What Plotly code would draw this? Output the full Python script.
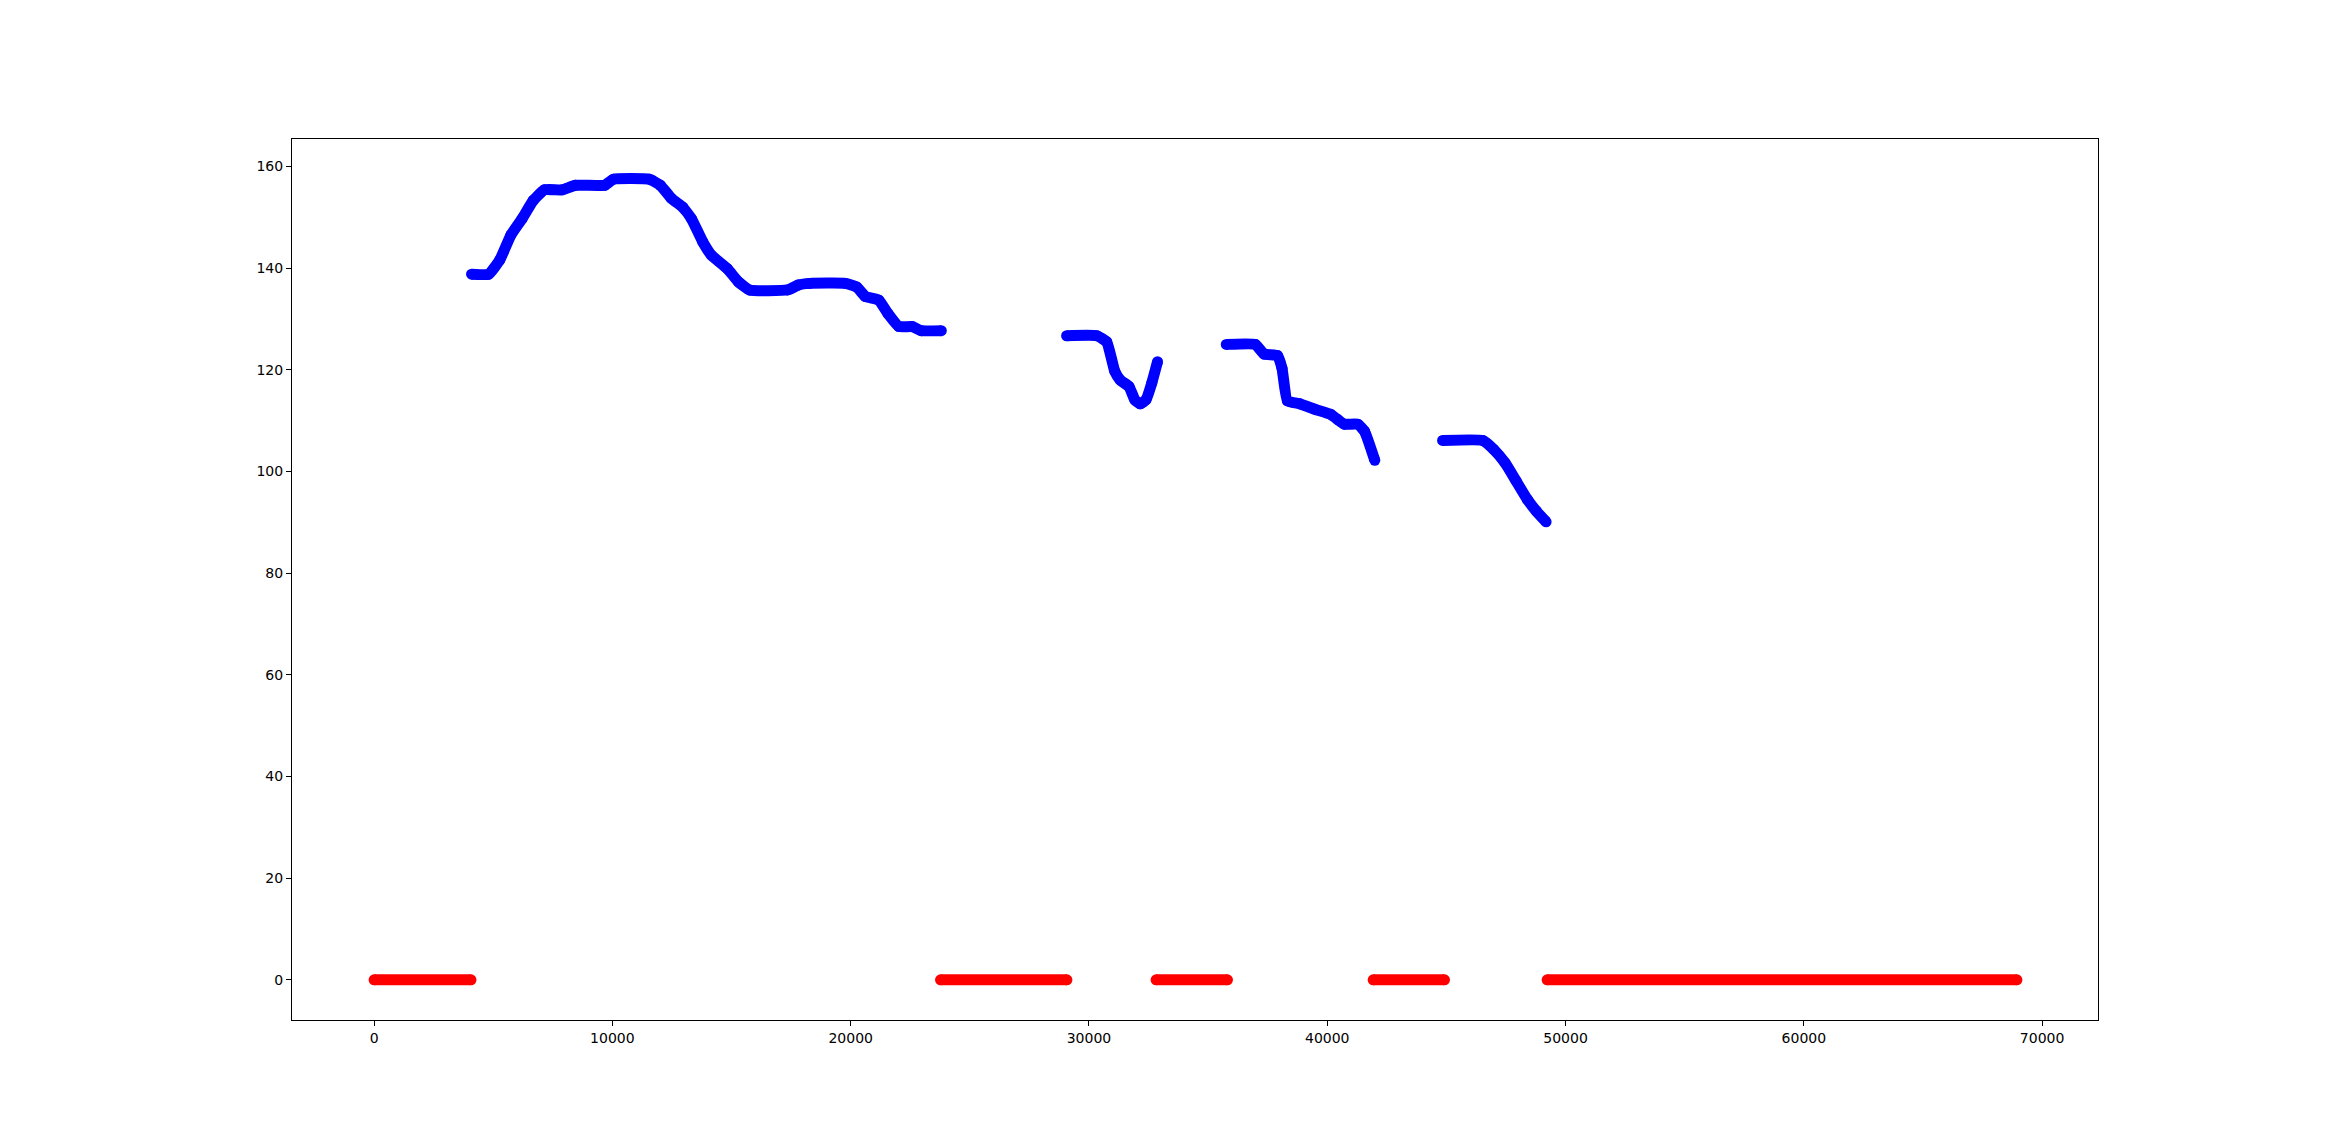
import plotly.graph_objects as go

# Blue series: non-zero readings, split into separate runs (gaps as None)
blue_x = [
    4090, 4805, 5273, 5741, 6209, 6677, 7145, 7893, 8455, 9671, 10045, 11543,
    12012, 12480, 12948, 13322, 13790, 14164, 14820, 15288, 15756, 17347,
    17815, 18283, 19780, 20248, 20622, 21184, 21558, 22026, 22588, 22961, 23804,
    None,
    29062, 30333, 30745, 31083, 31308, 31682, 31925, 32149, 32392, 32636, 32878,
    None,
    35762, 36978, 37352, 37914, 38102, 38326, 38850, 39506, 40161, 40442, 40723,
    41284, 41566, 41995,
    None,
    44840, 46526, 46993, 47461, 47930, 48396, 48773, 49184,
]
blue_y = [
    138.8, 138.8, 141.6, 146.5, 149.7, 153.3, 155.4, 155.4, 156.3, 156.3, 157.5, 157.5,
    156.3, 153.7, 152.0, 149.7, 145.2, 142.5, 139.9, 137.3, 135.7, 135.7,
    136.7, 137.0, 137.0, 136.3, 134.4, 133.7, 131.1, 128.5, 128.5, 127.7, 127.7,
    None,
    126.7, 126.7, 125.5, 119.7, 118.0, 116.7, 114.1, 113.3, 114.1, 117.4, 121.6,
    None,
    125.0, 125.0, 123.1, 122.8, 120.3, 113.9, 113.3, 112.2, 111.2, 110.2, 109.3,
    109.3, 107.9, 102.2,
    None,
    106.1, 106.1, 104.3, 101.7, 98.1, 94.5, 92.2, 90.1,
]

# Red series: zero readings (run start / end positions)
red_x = [0, 4067, None, 23770, 29074, None, 32817, 35812, None,
         41926, 44921, None, 49227, 68942]
red_y = [0, 0, None, 0, 0, None, 0, 0, None, 0, 0, None, 0, 0]

x_ticks = [0, 10000, 20000, 30000, 40000, 50000, 60000, 70000]
y_ticks = [0, 20, 40, 60, 80, 100, 120, 140, 160]

fig = go.Figure()
fig.add_trace(go.Scatter(
    x=red_x, y=red_y, mode="lines+markers",
    line=dict(color="#ff0000", width=11),
    marker=dict(color="#ff0000", size=11),
    connectgaps=False, showlegend=False, hoverinfo="skip",
))
fig.add_trace(go.Scatter(
    x=blue_x, y=blue_y, mode="lines+markers",
    line=dict(color="#0000ff", width=11, shape="spline", smoothing=0.4),
    marker=dict(color="#0000ff", size=11),
    connectgaps=False, showlegend=False, hoverinfo="skip",
))

axis_common = dict(
    showgrid=False, zeroline=False, showline=True, mirror=True,
    linecolor="black", linewidth=1, ticks="outside", ticklen=5,
    tickwidth=1, tickcolor="black",
    tickfont=dict(family="DejaVu Sans", size=14, color="black"),
)
fig.update_layout(
    width=2330, height=1146,
    margin=dict(l=284, r=240, t=131, b=134),
    paper_bgcolor="white", plot_bgcolor="white",
    xaxis=dict(range=[-3445, 72345], tickvals=x_ticks,
               ticktext=[str(v) for v in x_ticks], **axis_common),
    yaxis=dict(range=[-7.9, 165.4], tickvals=y_ticks,
               ticktext=[str(v) for v in y_ticks], **axis_common),
)
fig.write_html("out.html")
